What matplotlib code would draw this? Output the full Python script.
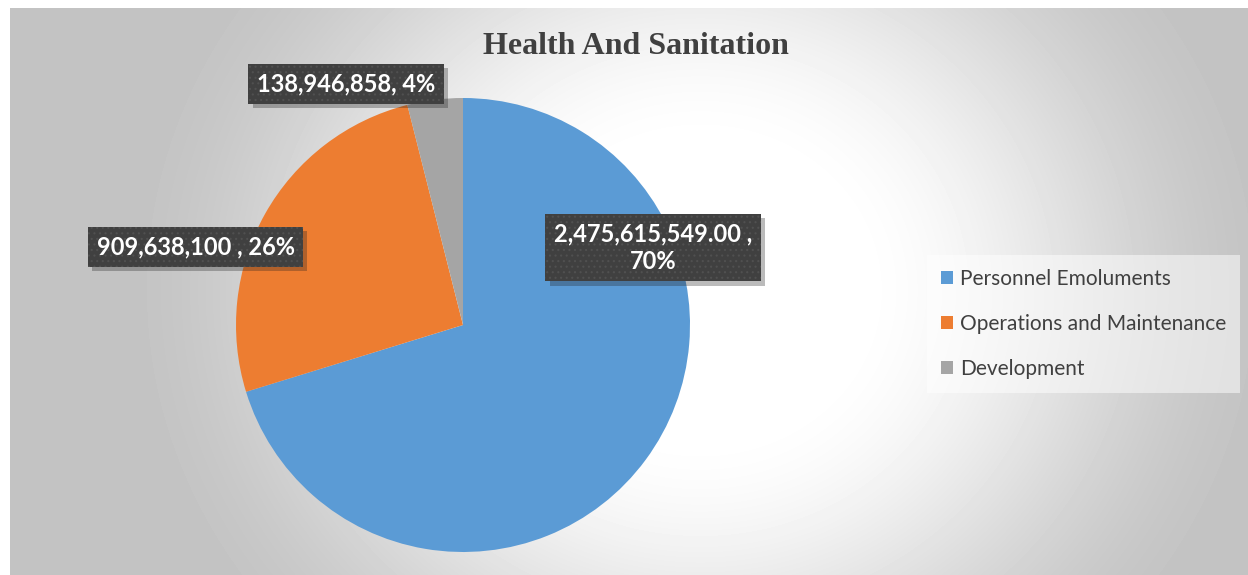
import numpy as np
import matplotlib
matplotlib.use("Agg")
import matplotlib.pyplot as plt
import matplotlib.patheffects as pe

# budget split for the health vote
categories = ["Personnel Emoluments", "Operations and Maintenance", "Development"]
amounts = [2475615549.00, 909638100, 138946858]
colors = ["#5b9bd5", "#ed7d31", "#a5a5a5"]
label_fmt = ["{v:,.2f} ,\n{p:.0f}%", "{v:,.0f} , {p:.0f}%", "{v:,.0f}, {p:.0f}%"]
label_pos = [(0.837, 0.341), (-1.178, 0.344), (-0.515, 1.062)]

plt.rcParams["hatch.color"] = "#505050"
plt.rcParams["hatch.linewidth"] = 0.8

W, H = 1248, 575
fig = plt.figure(figsize=(W / 100, H / 100), dpi=100)

# radial grey background behind the chart
bg = fig.add_axes([0, 0, 1, 1])
yy, xx = np.mgrid[0:H, 0:W]
d = np.hypot((xx - 700) / 590.0, (yy - 290) / 540.0)
s = np.clip((d - 0.25) / 0.75, 0, 1)
s = s * s * (3 - 2 * s)
val = 1.0 - 0.235 * s
val[:8, :] = 1.0
val[:, :10] = 1.0
bg.imshow(val, cmap="gray", vmin=0, vmax=1, extent=[0, W, H, 0], aspect="auto",
          interpolation="bilinear")
bg.set_xlim(0, W)
bg.set_ylim(H, 0)
bg.axis("off")

cx, cy, r = 463, 325, 227
ax = fig.add_axes([(cx - r) / W, (H - cy - r) / H, 2 * r / W, 2 * r / H])
wedges, _ = ax.pie(amounts, colors=colors, startangle=90, counterclock=False,
                   radius=1, wedgeprops=dict(linewidth=0))
ax.set_xlim(-1, 1)
ax.set_ylim(-1, 1)
ax.axis("off")

total = sum(amounts)
for v, fmt, (x, y) in zip(amounts, label_fmt, label_pos):
    t = ax.text(x, y, fmt.format(v=v, p=100 * v / total), ha="center", va="center",
                color="white", fontsize=17, fontweight="bold", family="Lato",
                linespacing=1.25,
                bbox=dict(boxstyle="square,pad=0.36", fc="#404040", ec="#505050",
                          lw=0, hatch="..."))
    t.get_bbox_patch().set_path_effects([
        pe.SimplePatchShadow(offset=(3, -3), shadow_rgbFace="#202020", alpha=0.3,
                             hatch=None),
        pe.Normal()])

fig.text(636 / W, 1 - 47 / H, "Health And Sanitation", ha="center", va="center",
         fontsize=23, fontweight="bold", family="Liberation Serif", color="#404040")

leg = fig.legend(wedges, categories, loc="center left",
                 bbox_to_anchor=(917 / W, 1 - 324 / H), frameon=True,
                 handlelength=0.6, handleheight=0.6,
                 handletextpad=0.3, labelspacing=1.2, borderpad=0.65,
                 prop={"family": "Lato", "size": 15})
for txt in leg.get_texts():
    txt.set_color("#404040")
frame = leg.get_frame()
frame.set_facecolor("white")
frame.set_alpha(0.5)
frame.set_edgecolor("none")
frame.set_boxstyle("square", pad=0)

fig.savefig("out.png", dpi=100)
